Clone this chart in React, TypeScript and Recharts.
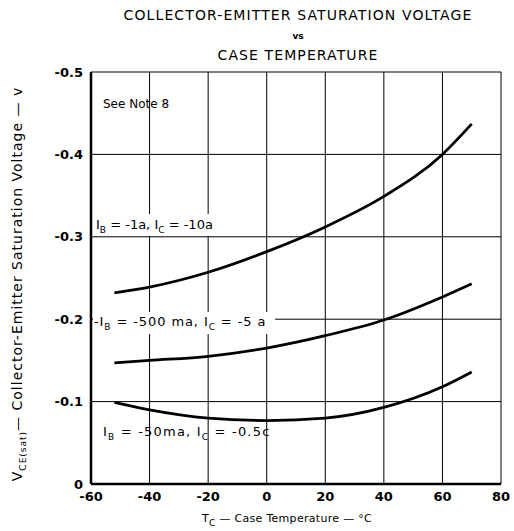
import React from "react";
import {
  LineChart,
  Line,
  XAxis,
  YAxis,
  CartesianGrid,
  Customized,
} from "recharts";

// case temperature, degrees C
const temps = [-52, -40, -20, 0, 20, 40, 60, 70];
// VCE(sat) in volts for each bias condition
const vceHigh = [-0.232, -0.239, -0.257, -0.282, -0.312, -0.349, -0.4, -0.437];
const vceMid = [-0.147, -0.15, -0.155, -0.165, -0.18, -0.199, -0.227, -0.243];
const vceLow = [-0.099, -0.09, -0.08, -0.077, -0.08, -0.093, -0.118, -0.136];

const xTicks = [-60, -40, -20, 0, 20, 40, 60, 80];
const yTicks = [-0.5, -0.4, -0.3, -0.2, -0.1, 0];

const data = temps.map((t, i) => ({
  t,
  high: vceHigh[i],
  mid: vceMid[i],
  low: vceLow[i],
}));

const FONT = "'DejaVu Sans', sans-serif";
const W = 514;
const H = 531;

function Notes() {
  const sub = (s: string) => (
    <tspan dy={4} fontSize={9}>
      {s}
    </tspan>
  );
  const up = (s: string) => <tspan dy={-4}>{s}</tspan>;
  return (
    <g fontFamily={FONT} fill="#000">
      <text x={298} y={20} textAnchor="middle" fontSize={14} letterSpacing={1.1}>
        COLLECTOR-EMITTER SATURATION VOLTAGE
      </text>
      <text x={298} y={39} textAnchor="middle" fontSize={9} fontWeight="bold">
        vs
      </text>
      <text x={298} y={60} textAnchor="middle" fontSize={14} letterSpacing={1.1}>
        CASE TEMPERATURE
      </text>

      <text x={103} y={108} fontSize={12}>
        See Note 8
      </text>

      <rect x={93} y={214} width={123} height={22} fill="#fff" />
      <text x={96} y={229} fontSize={13}>
        I{sub("B")}
        {up(" = -1a, I")}
        {sub("C")}
        {up(" = -10a")}
      </text>

      <rect x={93} y={312} width={182} height={22} fill="#fff" />
      <text x={94} y={326} fontSize={13} letterSpacing={0.9}>
        -I{sub("B")}
        {up(" = -500 ma, I")}
        {sub("C")}
        {up(" = -5 a")}
      </text>

      <text x={103} y={436} fontSize={13} letterSpacing={1.2}>
        I{sub("B")}
        {up("  =  -50ma,  I")}
        {sub("C")}
        {up(" = -0.5c")}
      </text>

      <text
        x={22}
        y={284}
        textAnchor="middle"
        fontSize={14}
        letterSpacing={1}
        transform="rotate(-90 22 284)"
      >
        V{sub("CE(sat)")}
        {up("— Collector-Emitter Saturation Voltage — v")}
      </text>

      <text x={287} y={522} textAnchor="middle" fontSize={11} letterSpacing={0.3}>
        T{sub("C")}
        {up(" — Case Temperature — °C")}
      </text>
    </g>
  );
}

export default function App() {
  return (
    <div style={{ position: "absolute", left: 0, top: 0, background: "#fff" }}>
      <LineChart
        width={W}
        height={H}
        data={data}
        margin={{ top: 72, right: 13, bottom: 0, left: 0 }}
      >
        <CartesianGrid stroke="#000" strokeWidth={1} />
        <XAxis
          dataKey="t"
          type="number"
          domain={[-60, 80]}
          ticks={xTicks}
          tickLine={false}
          axisLine={{ stroke: "#000", strokeWidth: 2.5 }}
          tick={{ fill: "#000", fontSize: 13, fontFamily: FONT, fontWeight: "bold" }}
          tickFormatter={(v) => String(v)}
          height={47}
        />
        <YAxis
          type="number"
          domain={[-0.5, 0]}
          reversed
          ticks={yTicks}
          tickLine={false}
          axisLine={{ stroke: "#000", strokeWidth: 2.5 }}
          tick={{ fill: "#000", fontSize: 13, fontFamily: FONT, fontWeight: "bold" }}
          tickFormatter={(v) => (v === 0 ? "0" : v.toFixed(1))}
          width={91}
        />
        <XAxis
          xAxisId="top"
          orientation="top"
          dataKey="t"
          type="number"
          domain={[-60, 80]}
          tick={false}
          tickLine={false}
          axisLine={{ stroke: "#000", strokeWidth: 2.5 }}
          height={0}
        />
        <YAxis
          yAxisId="right"
          orientation="right"
          type="number"
          domain={[-0.5, 0]}
          tick={false}
          tickLine={false}
          axisLine={{ stroke: "#000", strokeWidth: 2.5 }}
          width={0}
        />
        <Line
          dataKey="high"
          type="monotone"
          stroke="#000"
          strokeWidth={2.8}
          dot={false}
          isAnimationActive={false}
        />
        <Line
          dataKey="mid"
          type="monotone"
          stroke="#000"
          strokeWidth={2.8}
          dot={false}
          isAnimationActive={false}
        />
        <Line
          dataKey="low"
          type="monotone"
          stroke="#000"
          strokeWidth={2.8}
          dot={false}
          isAnimationActive={false}
        />
        <Customized component={<Notes />} />
      </LineChart>
    </div>
  );
}
